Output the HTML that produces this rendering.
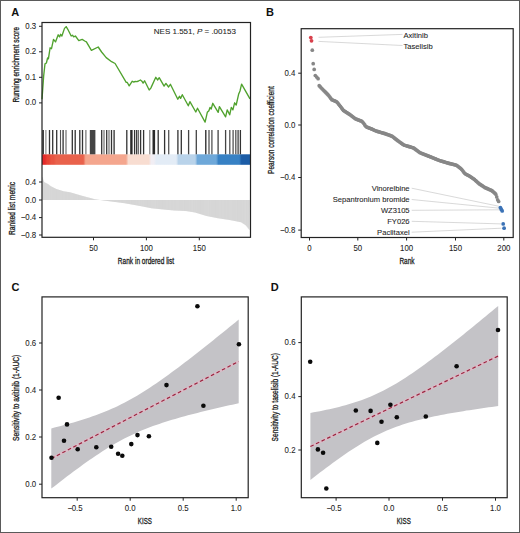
<!DOCTYPE html><html><head><meta charset="utf-8"><style>html,body{margin:0;padding:0;background:#fff;}svg{display:block;}</style></head><body><svg width="520" height="533" viewBox="0 0 520 533" font-family="Liberation Sans, sans-serif">
<rect x="0" y="0" width="520" height="533" fill="#fff"/>
<rect x="0.5" y="0.5" width="519" height="532" fill="none" stroke="#5a5a5a" stroke-width="1"/>
<text x="11.3" y="16.4" font-size="11" font-weight="bold" fill="#111">A</text>
<text x="266" y="15.9" font-size="11" font-weight="bold" fill="#111">B</text>
<text x="11.4" y="291.1" font-size="11" font-weight="bold" fill="#111">C</text>
<text x="270.8" y="291.1" font-size="11" font-weight="bold" fill="#111">D</text>
<defs><linearGradient id="hg" x1="0" x2="1" y1="0" y2="0"><stop offset="0.0000" stop-color="#e42a2a"/><stop offset="0.0134" stop-color="#e42a2a"/><stop offset="0.0249" stop-color="#e84434"/><stop offset="0.0326" stop-color="#e84434"/><stop offset="0.0441" stop-color="#e85542"/><stop offset="0.0566" stop-color="#e85542"/><stop offset="0.0681" stop-color="#e9624c"/><stop offset="0.1981" stop-color="#e9624c"/><stop offset="0.2096" stop-color="#f4a68e"/><stop offset="0.4029" stop-color="#f4a68e"/><stop offset="0.4144" stop-color="#f8ddd1"/><stop offset="0.5122" stop-color="#f8ddd1"/><stop offset="0.5237" stop-color="#f1eef4"/><stop offset="0.5362" stop-color="#f1eef4"/><stop offset="0.5477" stop-color="#e3ecf6"/><stop offset="0.6432" stop-color="#e3ecf6"/><stop offset="0.6547" stop-color="#b9d3ea"/><stop offset="0.7343" stop-color="#b9d3ea"/><stop offset="0.7458" stop-color="#6ea8d9"/><stop offset="0.8350" stop-color="#6ea8d9"/><stop offset="0.8465" stop-color="#3781c4"/><stop offset="0.9458" stop-color="#3781c4"/><stop offset="0.9573" stop-color="#1b5ca6"/><stop offset="1.0000" stop-color="#1b5ca6"/></linearGradient></defs>
<rect x="42" y="154.3" width="208.5" height="10.5" fill="url(#hg)"/>
<rect x="42.3" y="130" width="1.6" height="24.3" fill="#2a2a2a"/>
<rect x="45.4" y="130" width="1" height="24.3" fill="#777"/>
<rect x="48.85" y="130" width="1.3" height="24.3" fill="#333"/>
<rect x="52.05" y="130" width="1.3" height="24.3" fill="#333"/>
<rect x="56.05" y="130" width="1.3" height="24.3" fill="#333"/>
<rect x="59.95" y="130" width="1.1" height="24.3" fill="#555"/>
<rect x="62.45" y="130" width="1.3" height="24.3" fill="#333"/>
<rect x="65.45" y="130" width="1.1" height="24.3" fill="#666"/>
<rect x="71.65" y="130" width="1.3" height="24.3" fill="#333"/>
<rect x="74.55" y="130" width="1.3" height="24.3" fill="#333"/>
<rect x="79.15" y="130" width="1.3" height="24.3" fill="#333"/>
<rect x="81.85" y="130" width="1.3" height="24.3" fill="#333"/>
<rect x="85.35" y="130" width="1.1" height="24.3" fill="#666"/>
<rect x="89.8" y="130" width="5.6" height="24.3" fill="#444"/>
<rect x="101.05" y="130" width="1.3" height="24.3" fill="#333"/>
<rect x="103.45" y="130" width="1.1" height="24.3" fill="#666"/>
<rect x="106.05" y="130" width="1.3" height="24.3" fill="#333"/>
<rect x="108.45" y="130" width="1.1" height="24.3" fill="#666"/>
<rect x="110.85" y="130" width="1.3" height="24.3" fill="#333"/>
<rect x="113.45" y="130" width="1.3" height="24.3" fill="#333"/>
<rect x="126.15" y="130" width="1.3" height="24.3" fill="#333"/>
<rect x="130.2" y="130" width="2.4" height="24.3" fill="#2a2a2a"/>
<rect x="133.95" y="130" width="1.3" height="24.3" fill="#333"/>
<rect x="136.05" y="130" width="1.3" height="24.3" fill="#333"/>
<rect x="137.85" y="130" width="1.1" height="24.3" fill="#666"/>
<rect x="139.95" y="130" width="1.3" height="24.3" fill="#333"/>
<rect x="142.95" y="130" width="1.3" height="24.3" fill="#333"/>
<rect x="149.25" y="130" width="1.1" height="24.3" fill="#777"/>
<rect x="152.5" y="130" width="2.6" height="24.3" fill="#2a2a2a"/>
<rect x="157.55" y="130" width="1.3" height="24.3" fill="#333"/>
<rect x="163.95" y="130" width="1.3" height="24.3" fill="#333"/>
<rect x="168.05" y="130" width="1.3" height="24.3" fill="#555"/>
<rect x="177.25" y="130" width="1.3" height="24.3" fill="#333"/>
<rect x="180.65" y="130" width="1.3" height="24.3" fill="#333"/>
<rect x="187.95" y="130" width="1.3" height="24.3" fill="#444"/>
<rect x="195.65" y="130" width="1.3" height="24.3" fill="#444"/>
<rect x="205.15" y="130" width="1.3" height="24.3" fill="#222"/>
<rect x="208.35" y="130" width="1.3" height="24.3" fill="#555"/>
<rect x="211.25" y="130" width="1.3" height="24.3" fill="#555"/>
<rect x="217.45" y="130" width="1.3" height="24.3" fill="#444"/>
<rect x="224.95" y="130" width="1.3" height="24.3" fill="#444"/>
<rect x="229.15" y="130" width="1.3" height="24.3" fill="#555"/>
<rect x="232.45" y="130" width="1.3" height="24.3" fill="#555"/>
<rect x="235.15" y="130" width="1.3" height="24.3" fill="#555"/>
<rect x="237.45" y="130" width="1.3" height="24.3" fill="#444"/>
<rect x="239.75" y="130" width="1.3" height="24.3" fill="#333"/>
<path d="M42.3,200 L42.3,176.5 L43.2,179 L44,182 L48,184.1 L50.5,186.1 L56.4,189 L63.6,191.3 L70,192.3 L82,195.8 L95,199.3 L103.5,200.5 L124.6,203.2 L140,206 L151.5,208.3 L163,209.4 L174.6,210.6 L186,211.1 L195,212.5 L206.5,216 L218,218.3 L229.6,220 L241.1,222.3 L245.7,225.2 L249.4,230 L249.8,200 Z" fill="#e2e2e2"/>
<line x1="42.6" y1="200" x2="42.6" y2="177.33" stroke="#c2c2c2" stroke-width="0.38"/>
<line x1="43.66" y1="200" x2="43.66" y2="180.73" stroke="#c2c2c2" stroke-width="0.38"/>
<line x1="44.72" y1="200" x2="44.72" y2="182.38" stroke="#c2c2c2" stroke-width="0.38"/>
<line x1="45.78" y1="200" x2="45.78" y2="182.93" stroke="#c2c2c2" stroke-width="0.38"/>
<line x1="46.84" y1="200" x2="46.84" y2="183.49" stroke="#c2c2c2" stroke-width="0.38"/>
<line x1="47.9" y1="200" x2="47.9" y2="184.05" stroke="#c2c2c2" stroke-width="0.38"/>
<line x1="48.96" y1="200" x2="48.96" y2="184.87" stroke="#c2c2c2" stroke-width="0.38"/>
<line x1="50.02" y1="200" x2="50.02" y2="185.72" stroke="#c2c2c2" stroke-width="0.38"/>
<line x1="51.08" y1="200" x2="51.08" y2="186.39" stroke="#c2c2c2" stroke-width="0.38"/>
<line x1="52.14" y1="200" x2="52.14" y2="186.91" stroke="#c2c2c2" stroke-width="0.38"/>
<line x1="53.2" y1="200" x2="53.2" y2="187.43" stroke="#c2c2c2" stroke-width="0.38"/>
<line x1="54.26" y1="200" x2="54.26" y2="187.95" stroke="#c2c2c2" stroke-width="0.38"/>
<line x1="55.32" y1="200" x2="55.32" y2="188.47" stroke="#c2c2c2" stroke-width="0.38"/>
<line x1="56.38" y1="200" x2="56.38" y2="188.99" stroke="#c2c2c2" stroke-width="0.38"/>
<line x1="57.44" y1="200" x2="57.44" y2="189.33" stroke="#c2c2c2" stroke-width="0.38"/>
<line x1="58.5" y1="200" x2="58.5" y2="189.67" stroke="#c2c2c2" stroke-width="0.38"/>
<line x1="59.56" y1="200" x2="59.56" y2="190.01" stroke="#c2c2c2" stroke-width="0.38"/>
<line x1="60.62" y1="200" x2="60.62" y2="190.35" stroke="#c2c2c2" stroke-width="0.38"/>
<line x1="61.68" y1="200" x2="61.68" y2="190.69" stroke="#c2c2c2" stroke-width="0.38"/>
<line x1="62.74" y1="200" x2="62.74" y2="191.03" stroke="#c2c2c2" stroke-width="0.38"/>
<line x1="63.8" y1="200" x2="63.8" y2="191.33" stroke="#c2c2c2" stroke-width="0.38"/>
<line x1="64.86" y1="200" x2="64.86" y2="191.5" stroke="#c2c2c2" stroke-width="0.38"/>
<line x1="65.92" y1="200" x2="65.92" y2="191.66" stroke="#c2c2c2" stroke-width="0.38"/>
<line x1="66.98" y1="200" x2="66.98" y2="191.83" stroke="#c2c2c2" stroke-width="0.38"/>
<line x1="68.04" y1="200" x2="68.04" y2="191.99" stroke="#c2c2c2" stroke-width="0.38"/>
<line x1="69.1" y1="200" x2="69.1" y2="192.16" stroke="#c2c2c2" stroke-width="0.38"/>
<line x1="70.16" y1="200" x2="70.16" y2="192.35" stroke="#c2c2c2" stroke-width="0.38"/>
<line x1="71.22" y1="200" x2="71.22" y2="192.66" stroke="#c2c2c2" stroke-width="0.38"/>
<line x1="72.28" y1="200" x2="72.28" y2="192.97" stroke="#c2c2c2" stroke-width="0.38"/>
<line x1="73.34" y1="200" x2="73.34" y2="193.27" stroke="#c2c2c2" stroke-width="0.38"/>
<line x1="74.4" y1="200" x2="74.4" y2="193.58" stroke="#c2c2c2" stroke-width="0.38"/>
<line x1="75.46" y1="200" x2="75.46" y2="193.89" stroke="#c2c2c2" stroke-width="0.38"/>
<line x1="76.52" y1="200" x2="76.52" y2="194.2" stroke="#c2c2c2" stroke-width="0.38"/>
<line x1="77.58" y1="200" x2="77.58" y2="194.51" stroke="#c2c2c2" stroke-width="0.38"/>
<line x1="78.64" y1="200" x2="78.64" y2="194.82" stroke="#c2c2c2" stroke-width="0.38"/>
<line x1="79.7" y1="200" x2="79.7" y2="195.13" stroke="#c2c2c2" stroke-width="0.38"/>
<line x1="80.76" y1="200" x2="80.76" y2="195.44" stroke="#c2c2c2" stroke-width="0.38"/>
<line x1="81.82" y1="200" x2="81.82" y2="195.75" stroke="#c2c2c2" stroke-width="0.38"/>
<line x1="82.88" y1="200" x2="82.88" y2="196.04" stroke="#c2c2c2" stroke-width="0.38"/>
<line x1="83.94" y1="200" x2="83.94" y2="196.32" stroke="#c2c2c2" stroke-width="0.38"/>
<line x1="85" y1="200" x2="85" y2="196.61" stroke="#c2c2c2" stroke-width="0.38"/>
<line x1="86.06" y1="200" x2="86.06" y2="196.89" stroke="#c2c2c2" stroke-width="0.38"/>
<line x1="87.12" y1="200" x2="87.12" y2="197.18" stroke="#c2c2c2" stroke-width="0.38"/>
<line x1="88.18" y1="200" x2="88.18" y2="197.46" stroke="#c2c2c2" stroke-width="0.38"/>
<line x1="89.24" y1="200" x2="89.24" y2="197.75" stroke="#c2c2c2" stroke-width="0.38"/>
<line x1="90.3" y1="200" x2="90.3" y2="198.03" stroke="#c2c2c2" stroke-width="0.38"/>
<line x1="91.36" y1="200" x2="91.36" y2="198.32" stroke="#c2c2c2" stroke-width="0.38"/>
<line x1="92.42" y1="200" x2="92.42" y2="198.61" stroke="#c2c2c2" stroke-width="0.38"/>
<line x1="93.48" y1="200" x2="93.48" y2="198.89" stroke="#c2c2c2" stroke-width="0.38"/>
<line x1="94.54" y1="200" x2="94.54" y2="199.18" stroke="#c2c2c2" stroke-width="0.38"/>
<line x1="95.6" y1="200" x2="95.6" y2="199.38" stroke="#c2c2c2" stroke-width="0.38"/>
<line x1="96.66" y1="200" x2="96.66" y2="199.53" stroke="#c2c2c2" stroke-width="0.38"/>
<line x1="97.72" y1="200" x2="97.72" y2="199.68" stroke="#c2c2c2" stroke-width="0.38"/>
<line x1="98.78" y1="200" x2="98.78" y2="199.83" stroke="#c2c2c2" stroke-width="0.38"/>
<line x1="99.84" y1="200" x2="99.84" y2="199.98" stroke="#c2c2c2" stroke-width="0.38"/>
<line x1="100.9" y1="200" x2="100.9" y2="200.13" stroke="#c2c2c2" stroke-width="0.38"/>
<line x1="101.96" y1="200" x2="101.96" y2="200.28" stroke="#c2c2c2" stroke-width="0.38"/>
<line x1="103.02" y1="200" x2="103.02" y2="200.43" stroke="#c2c2c2" stroke-width="0.38"/>
<line x1="104.08" y1="200" x2="104.08" y2="200.57" stroke="#c2c2c2" stroke-width="0.38"/>
<line x1="105.14" y1="200" x2="105.14" y2="200.71" stroke="#c2c2c2" stroke-width="0.38"/>
<line x1="106.2" y1="200" x2="106.2" y2="200.85" stroke="#c2c2c2" stroke-width="0.38"/>
<line x1="107.26" y1="200" x2="107.26" y2="200.98" stroke="#c2c2c2" stroke-width="0.38"/>
<line x1="108.32" y1="200" x2="108.32" y2="201.12" stroke="#c2c2c2" stroke-width="0.38"/>
<line x1="109.38" y1="200" x2="109.38" y2="201.25" stroke="#c2c2c2" stroke-width="0.38"/>
<line x1="110.44" y1="200" x2="110.44" y2="201.39" stroke="#c2c2c2" stroke-width="0.38"/>
<line x1="111.5" y1="200" x2="111.5" y2="201.52" stroke="#c2c2c2" stroke-width="0.38"/>
<line x1="112.56" y1="200" x2="112.56" y2="201.66" stroke="#c2c2c2" stroke-width="0.38"/>
<line x1="113.62" y1="200" x2="113.62" y2="201.79" stroke="#c2c2c2" stroke-width="0.38"/>
<line x1="114.68" y1="200" x2="114.68" y2="201.93" stroke="#c2c2c2" stroke-width="0.38"/>
<line x1="115.74" y1="200" x2="115.74" y2="202.07" stroke="#c2c2c2" stroke-width="0.38"/>
<line x1="116.8" y1="200" x2="116.8" y2="202.2" stroke="#c2c2c2" stroke-width="0.38"/>
<line x1="117.86" y1="200" x2="117.86" y2="202.34" stroke="#c2c2c2" stroke-width="0.38"/>
<line x1="118.92" y1="200" x2="118.92" y2="202.47" stroke="#c2c2c2" stroke-width="0.38"/>
<line x1="119.98" y1="200" x2="119.98" y2="202.61" stroke="#c2c2c2" stroke-width="0.38"/>
<line x1="121.04" y1="200" x2="121.04" y2="202.74" stroke="#c2c2c2" stroke-width="0.38"/>
<line x1="122.1" y1="200" x2="122.1" y2="202.88" stroke="#c2c2c2" stroke-width="0.38"/>
<line x1="123.16" y1="200" x2="123.16" y2="203.02" stroke="#c2c2c2" stroke-width="0.38"/>
<line x1="124.22" y1="200" x2="124.22" y2="203.15" stroke="#c2c2c2" stroke-width="0.38"/>
<line x1="125.28" y1="200" x2="125.28" y2="203.32" stroke="#c2c2c2" stroke-width="0.38"/>
<line x1="126.34" y1="200" x2="126.34" y2="203.52" stroke="#c2c2c2" stroke-width="0.38"/>
<line x1="127.4" y1="200" x2="127.4" y2="203.71" stroke="#c2c2c2" stroke-width="0.38"/>
<line x1="128.46" y1="200" x2="128.46" y2="203.9" stroke="#c2c2c2" stroke-width="0.38"/>
<line x1="129.52" y1="200" x2="129.52" y2="204.09" stroke="#c2c2c2" stroke-width="0.38"/>
<line x1="130.58" y1="200" x2="130.58" y2="204.29" stroke="#c2c2c2" stroke-width="0.38"/>
<line x1="131.64" y1="200" x2="131.64" y2="204.48" stroke="#c2c2c2" stroke-width="0.38"/>
<line x1="132.7" y1="200" x2="132.7" y2="204.67" stroke="#c2c2c2" stroke-width="0.38"/>
<line x1="133.76" y1="200" x2="133.76" y2="204.87" stroke="#c2c2c2" stroke-width="0.38"/>
<line x1="134.82" y1="200" x2="134.82" y2="205.06" stroke="#c2c2c2" stroke-width="0.38"/>
<line x1="135.88" y1="200" x2="135.88" y2="205.25" stroke="#c2c2c2" stroke-width="0.38"/>
<line x1="136.94" y1="200" x2="136.94" y2="205.44" stroke="#c2c2c2" stroke-width="0.38"/>
<line x1="138" y1="200" x2="138" y2="205.64" stroke="#c2c2c2" stroke-width="0.38"/>
<line x1="139.06" y1="200" x2="139.06" y2="205.83" stroke="#c2c2c2" stroke-width="0.38"/>
<line x1="140.12" y1="200" x2="140.12" y2="206.02" stroke="#c2c2c2" stroke-width="0.38"/>
<line x1="141.18" y1="200" x2="141.18" y2="206.24" stroke="#c2c2c2" stroke-width="0.38"/>
<line x1="142.24" y1="200" x2="142.24" y2="206.45" stroke="#c2c2c2" stroke-width="0.38"/>
<line x1="143.3" y1="200" x2="143.3" y2="206.66" stroke="#c2c2c2" stroke-width="0.38"/>
<line x1="144.36" y1="200" x2="144.36" y2="206.87" stroke="#c2c2c2" stroke-width="0.38"/>
<line x1="145.42" y1="200" x2="145.42" y2="207.08" stroke="#c2c2c2" stroke-width="0.38"/>
<line x1="146.48" y1="200" x2="146.48" y2="207.3" stroke="#c2c2c2" stroke-width="0.38"/>
<line x1="147.54" y1="200" x2="147.54" y2="207.51" stroke="#c2c2c2" stroke-width="0.38"/>
<line x1="148.6" y1="200" x2="148.6" y2="207.72" stroke="#c2c2c2" stroke-width="0.38"/>
<line x1="149.66" y1="200" x2="149.66" y2="207.93" stroke="#c2c2c2" stroke-width="0.38"/>
<line x1="150.72" y1="200" x2="150.72" y2="208.14" stroke="#c2c2c2" stroke-width="0.38"/>
<line x1="151.78" y1="200" x2="151.78" y2="208.33" stroke="#c2c2c2" stroke-width="0.38"/>
<line x1="152.84" y1="200" x2="152.84" y2="208.43" stroke="#c2c2c2" stroke-width="0.38"/>
<line x1="153.9" y1="200" x2="153.9" y2="208.53" stroke="#c2c2c2" stroke-width="0.38"/>
<line x1="154.96" y1="200" x2="154.96" y2="208.63" stroke="#c2c2c2" stroke-width="0.38"/>
<line x1="156.02" y1="200" x2="156.02" y2="208.73" stroke="#c2c2c2" stroke-width="0.38"/>
<line x1="157.08" y1="200" x2="157.08" y2="208.83" stroke="#c2c2c2" stroke-width="0.38"/>
<line x1="158.14" y1="200" x2="158.14" y2="208.94" stroke="#c2c2c2" stroke-width="0.38"/>
<line x1="159.2" y1="200" x2="159.2" y2="209.04" stroke="#c2c2c2" stroke-width="0.38"/>
<line x1="160.26" y1="200" x2="160.26" y2="209.14" stroke="#c2c2c2" stroke-width="0.38"/>
<line x1="161.32" y1="200" x2="161.32" y2="209.24" stroke="#c2c2c2" stroke-width="0.38"/>
<line x1="162.38" y1="200" x2="162.38" y2="209.34" stroke="#c2c2c2" stroke-width="0.38"/>
<line x1="163.44" y1="200" x2="163.44" y2="209.45" stroke="#c2c2c2" stroke-width="0.38"/>
<line x1="164.5" y1="200" x2="164.5" y2="209.56" stroke="#c2c2c2" stroke-width="0.38"/>
<line x1="165.56" y1="200" x2="165.56" y2="209.66" stroke="#c2c2c2" stroke-width="0.38"/>
<line x1="166.62" y1="200" x2="166.62" y2="209.77" stroke="#c2c2c2" stroke-width="0.38"/>
<line x1="167.68" y1="200" x2="167.68" y2="209.88" stroke="#c2c2c2" stroke-width="0.38"/>
<line x1="168.74" y1="200" x2="168.74" y2="209.99" stroke="#c2c2c2" stroke-width="0.38"/>
<line x1="169.8" y1="200" x2="169.8" y2="210.1" stroke="#c2c2c2" stroke-width="0.38"/>
<line x1="170.86" y1="200" x2="170.86" y2="210.21" stroke="#c2c2c2" stroke-width="0.38"/>
<line x1="171.92" y1="200" x2="171.92" y2="210.32" stroke="#c2c2c2" stroke-width="0.38"/>
<line x1="172.98" y1="200" x2="172.98" y2="210.43" stroke="#c2c2c2" stroke-width="0.38"/>
<line x1="174.04" y1="200" x2="174.04" y2="210.54" stroke="#c2c2c2" stroke-width="0.38"/>
<line x1="175.1" y1="200" x2="175.1" y2="210.62" stroke="#c2c2c2" stroke-width="0.38"/>
<line x1="176.16" y1="200" x2="176.16" y2="210.67" stroke="#c2c2c2" stroke-width="0.38"/>
<line x1="177.22" y1="200" x2="177.22" y2="210.71" stroke="#c2c2c2" stroke-width="0.38"/>
<line x1="178.28" y1="200" x2="178.28" y2="210.76" stroke="#c2c2c2" stroke-width="0.38"/>
<line x1="179.34" y1="200" x2="179.34" y2="210.81" stroke="#c2c2c2" stroke-width="0.38"/>
<line x1="180.4" y1="200" x2="180.4" y2="210.85" stroke="#c2c2c2" stroke-width="0.38"/>
<line x1="181.46" y1="200" x2="181.46" y2="210.9" stroke="#c2c2c2" stroke-width="0.38"/>
<line x1="182.52" y1="200" x2="182.52" y2="210.95" stroke="#c2c2c2" stroke-width="0.38"/>
<line x1="183.58" y1="200" x2="183.58" y2="210.99" stroke="#c2c2c2" stroke-width="0.38"/>
<line x1="184.64" y1="200" x2="184.64" y2="211.04" stroke="#c2c2c2" stroke-width="0.38"/>
<line x1="185.7" y1="200" x2="185.7" y2="211.09" stroke="#c2c2c2" stroke-width="0.38"/>
<line x1="186.76" y1="200" x2="186.76" y2="211.22" stroke="#c2c2c2" stroke-width="0.38"/>
<line x1="187.82" y1="200" x2="187.82" y2="211.38" stroke="#c2c2c2" stroke-width="0.38"/>
<line x1="188.88" y1="200" x2="188.88" y2="211.55" stroke="#c2c2c2" stroke-width="0.38"/>
<line x1="189.94" y1="200" x2="189.94" y2="211.71" stroke="#c2c2c2" stroke-width="0.38"/>
<line x1="191" y1="200" x2="191" y2="211.88" stroke="#c2c2c2" stroke-width="0.38"/>
<line x1="192.06" y1="200" x2="192.06" y2="212.04" stroke="#c2c2c2" stroke-width="0.38"/>
<line x1="193.12" y1="200" x2="193.12" y2="212.21" stroke="#c2c2c2" stroke-width="0.38"/>
<line x1="194.18" y1="200" x2="194.18" y2="212.37" stroke="#c2c2c2" stroke-width="0.38"/>
<line x1="195.24" y1="200" x2="195.24" y2="212.57" stroke="#c2c2c2" stroke-width="0.38"/>
<line x1="196.3" y1="200" x2="196.3" y2="212.9" stroke="#c2c2c2" stroke-width="0.38"/>
<line x1="197.36" y1="200" x2="197.36" y2="213.22" stroke="#c2c2c2" stroke-width="0.38"/>
<line x1="198.42" y1="200" x2="198.42" y2="213.54" stroke="#c2c2c2" stroke-width="0.38"/>
<line x1="199.48" y1="200" x2="199.48" y2="213.86" stroke="#c2c2c2" stroke-width="0.38"/>
<line x1="200.54" y1="200" x2="200.54" y2="214.19" stroke="#c2c2c2" stroke-width="0.38"/>
<line x1="201.6" y1="200" x2="201.6" y2="214.51" stroke="#c2c2c2" stroke-width="0.38"/>
<line x1="202.66" y1="200" x2="202.66" y2="214.83" stroke="#c2c2c2" stroke-width="0.38"/>
<line x1="203.72" y1="200" x2="203.72" y2="215.15" stroke="#c2c2c2" stroke-width="0.38"/>
<line x1="204.78" y1="200" x2="204.78" y2="215.48" stroke="#c2c2c2" stroke-width="0.38"/>
<line x1="205.84" y1="200" x2="205.84" y2="215.8" stroke="#c2c2c2" stroke-width="0.38"/>
<line x1="206.9" y1="200" x2="206.9" y2="216.08" stroke="#c2c2c2" stroke-width="0.38"/>
<line x1="207.96" y1="200" x2="207.96" y2="216.29" stroke="#c2c2c2" stroke-width="0.38"/>
<line x1="209.02" y1="200" x2="209.02" y2="216.5" stroke="#c2c2c2" stroke-width="0.38"/>
<line x1="210.08" y1="200" x2="210.08" y2="216.72" stroke="#c2c2c2" stroke-width="0.38"/>
<line x1="211.14" y1="200" x2="211.14" y2="216.93" stroke="#c2c2c2" stroke-width="0.38"/>
<line x1="212.2" y1="200" x2="212.2" y2="217.14" stroke="#c2c2c2" stroke-width="0.38"/>
<line x1="213.26" y1="200" x2="213.26" y2="217.35" stroke="#c2c2c2" stroke-width="0.38"/>
<line x1="214.32" y1="200" x2="214.32" y2="217.56" stroke="#c2c2c2" stroke-width="0.38"/>
<line x1="215.38" y1="200" x2="215.38" y2="217.78" stroke="#c2c2c2" stroke-width="0.38"/>
<line x1="216.44" y1="200" x2="216.44" y2="217.99" stroke="#c2c2c2" stroke-width="0.38"/>
<line x1="217.5" y1="200" x2="217.5" y2="218.2" stroke="#c2c2c2" stroke-width="0.38"/>
<line x1="218.56" y1="200" x2="218.56" y2="218.38" stroke="#c2c2c2" stroke-width="0.38"/>
<line x1="219.62" y1="200" x2="219.62" y2="218.54" stroke="#c2c2c2" stroke-width="0.38"/>
<line x1="220.68" y1="200" x2="220.68" y2="218.69" stroke="#c2c2c2" stroke-width="0.38"/>
<line x1="221.74" y1="200" x2="221.74" y2="218.85" stroke="#c2c2c2" stroke-width="0.38"/>
<line x1="222.8" y1="200" x2="222.8" y2="219" stroke="#c2c2c2" stroke-width="0.38"/>
<line x1="223.86" y1="200" x2="223.86" y2="219.16" stroke="#c2c2c2" stroke-width="0.38"/>
<line x1="224.92" y1="200" x2="224.92" y2="219.31" stroke="#c2c2c2" stroke-width="0.38"/>
<line x1="225.98" y1="200" x2="225.98" y2="219.47" stroke="#c2c2c2" stroke-width="0.38"/>
<line x1="227.04" y1="200" x2="227.04" y2="219.62" stroke="#c2c2c2" stroke-width="0.38"/>
<line x1="228.1" y1="200" x2="228.1" y2="219.78" stroke="#c2c2c2" stroke-width="0.38"/>
<line x1="229.16" y1="200" x2="229.16" y2="219.94" stroke="#c2c2c2" stroke-width="0.38"/>
<line x1="230.22" y1="200" x2="230.22" y2="220.12" stroke="#c2c2c2" stroke-width="0.38"/>
<line x1="231.28" y1="200" x2="231.28" y2="220.34" stroke="#c2c2c2" stroke-width="0.38"/>
<line x1="232.34" y1="200" x2="232.34" y2="220.55" stroke="#c2c2c2" stroke-width="0.38"/>
<line x1="233.4" y1="200" x2="233.4" y2="220.76" stroke="#c2c2c2" stroke-width="0.38"/>
<line x1="234.46" y1="200" x2="234.46" y2="220.97" stroke="#c2c2c2" stroke-width="0.38"/>
<line x1="235.52" y1="200" x2="235.52" y2="221.18" stroke="#c2c2c2" stroke-width="0.38"/>
<line x1="236.58" y1="200" x2="236.58" y2="221.4" stroke="#c2c2c2" stroke-width="0.38"/>
<line x1="237.64" y1="200" x2="237.64" y2="221.61" stroke="#c2c2c2" stroke-width="0.38"/>
<line x1="238.7" y1="200" x2="238.7" y2="221.82" stroke="#c2c2c2" stroke-width="0.38"/>
<line x1="239.76" y1="200" x2="239.76" y2="222.03" stroke="#c2c2c2" stroke-width="0.38"/>
<line x1="240.82" y1="200" x2="240.82" y2="222.24" stroke="#c2c2c2" stroke-width="0.38"/>
<line x1="241.88" y1="200" x2="241.88" y2="222.79" stroke="#c2c2c2" stroke-width="0.38"/>
<line x1="242.94" y1="200" x2="242.94" y2="223.46" stroke="#c2c2c2" stroke-width="0.38"/>
<line x1="244" y1="200" x2="244" y2="224.13" stroke="#c2c2c2" stroke-width="0.38"/>
<line x1="245.06" y1="200" x2="245.06" y2="224.8" stroke="#c2c2c2" stroke-width="0.38"/>
<line x1="246.12" y1="200" x2="246.12" y2="225.74" stroke="#c2c2c2" stroke-width="0.38"/>
<line x1="247.18" y1="200" x2="247.18" y2="227.12" stroke="#c2c2c2" stroke-width="0.38"/>
<line x1="248.24" y1="200" x2="248.24" y2="228.5" stroke="#c2c2c2" stroke-width="0.38"/>
<line x1="249.3" y1="200" x2="249.3" y2="229.87" stroke="#c2c2c2" stroke-width="0.38"/>
<polyline fill="none" stroke="#50a22e" stroke-width="1.35" stroke-linejoin="round" points="42,99.3 43.7,75.6 45,63.8 46.4,63 47.6,58 48.4,58.8 50.1,47.8 51.5,48.7 53.5,39.4 55.5,41.9 58.2,34.8 59.6,36.9 60.6,34.3 61.9,36 64.5,28.4 66.2,26.6 67.8,29.3 71.2,36 72.5,35.2 73.7,36.9 75.4,36 78.8,40.6 82.2,39.4 84.7,41 86.4,41.9 91.4,50.4 98.2,47 101.6,52 106.2,57.6 111.6,61.7 115.1,63.5 126.2,82.3 127.3,82.5 129.2,85.8 132.3,81.2 133.5,82 135.4,81.5 137,81.6 138.5,81 140.4,80 141.9,81.2 143.1,83.1 144.6,80.8 149.2,90 150.8,88.1 155.8,77.3 157.7,80 159.2,77.7 164.1,86.1 165.9,83.4 168.6,87 170.4,84.3 177.8,99.2 179.5,96.3 180.6,98.4 182.3,94.7 188.3,105.8 189.9,101.7 195.8,112 197.5,108.2 205.1,122.1 207.3,112.3 208.9,110.7 210,107.4 211.2,109 212.8,103.3 218.2,112.3 219.4,106.6 225.6,116.9 227.2,109.9 229.7,114.8 231.3,107.4 232.9,109.9 234.6,102.8 236.2,105 238.6,94.3 240,91 241.6,84.2 250,98.8"/>
<rect x="42" y="22.5" width="208.5" height="214.8" fill="none" stroke="#222" stroke-width="1.2"/>
<line x1="39" y1="26.3" x2="42" y2="26.3" stroke="#222" stroke-width="1"/>
<text transform="translate(36.2,28.85) scale(0.9,1)" font-size="8.7" text-anchor="end" fill="#1e1e1e" stroke="#1e1e1e" stroke-width="0.08">0.3</text>
<line x1="39" y1="51.8" x2="42" y2="51.8" stroke="#222" stroke-width="1"/>
<text transform="translate(36.2,54.35) scale(0.9,1)" font-size="8.7" text-anchor="end" fill="#1e1e1e" stroke="#1e1e1e" stroke-width="0.08">0.2</text>
<line x1="39" y1="77.3" x2="42" y2="77.3" stroke="#222" stroke-width="1"/>
<text transform="translate(36.2,79.85) scale(0.9,1)" font-size="8.7" text-anchor="end" fill="#1e1e1e" stroke="#1e1e1e" stroke-width="0.08">0.1</text>
<line x1="39" y1="102.9" x2="42" y2="102.9" stroke="#222" stroke-width="1"/>
<text transform="translate(36.2,105.45) scale(0.9,1)" font-size="8.7" text-anchor="end" fill="#1e1e1e" stroke="#1e1e1e" stroke-width="0.08">0.0</text>
<line x1="39" y1="182" x2="42" y2="182" stroke="#222" stroke-width="1"/>
<text transform="translate(36.2,184.55) scale(0.9,1)" font-size="8.7" text-anchor="end" fill="#1e1e1e" stroke="#1e1e1e" stroke-width="0.08">0.4</text>
<line x1="39" y1="200" x2="42" y2="200" stroke="#222" stroke-width="1"/>
<text transform="translate(36.2,202.55) scale(0.9,1)" font-size="8.7" text-anchor="end" fill="#1e1e1e" stroke="#1e1e1e" stroke-width="0.08">0.0</text>
<line x1="39" y1="217.6" x2="42" y2="217.6" stroke="#222" stroke-width="1"/>
<text transform="translate(36.2,220.15) scale(0.9,1)" font-size="8.7" text-anchor="end" fill="#1e1e1e" stroke="#1e1e1e" stroke-width="0.08">−0.4</text>
<line x1="39" y1="235" x2="42" y2="235" stroke="#222" stroke-width="1"/>
<text transform="translate(36.2,237.55) scale(0.9,1)" font-size="8.7" text-anchor="end" fill="#1e1e1e" stroke="#1e1e1e" stroke-width="0.08">−0.8</text>
<line x1="93.5" y1="237.3" x2="93.5" y2="240.3" stroke="#222" stroke-width="1"/>
<text transform="translate(93.5,250.9) scale(0.9,1)" font-size="8.7" text-anchor="middle" fill="#1e1e1e" stroke="#1e1e1e" stroke-width="0.08">50</text>
<line x1="146.4" y1="237.3" x2="146.4" y2="240.3" stroke="#222" stroke-width="1"/>
<text transform="translate(146.4,250.9) scale(0.9,1)" font-size="8.7" text-anchor="middle" fill="#1e1e1e" stroke="#1e1e1e" stroke-width="0.08">100</text>
<line x1="199.3" y1="237.3" x2="199.3" y2="240.3" stroke="#222" stroke-width="1"/>
<text transform="translate(199.3,250.9) scale(0.9,1)" font-size="8.7" text-anchor="middle" fill="#1e1e1e" stroke="#1e1e1e" stroke-width="0.08">150</text>
<text x="153.8" y="34.3" font-size="8" text-anchor="start" fill="#1e1e1e" stroke="#1e1e1e" stroke-width="0.08" >NES 1.551, <tspan font-style="italic">P</tspan> = .00153</text>
<text transform="translate(146,263.5) scale(0.726,1)" font-size="9" text-anchor="middle" fill="#1a1a1a" stroke="#1a1a1a" stroke-width="0.3">Rank in ordered list</text>
<text transform="translate(18.6,64.7) rotate(-90) scale(0.722,1)" font-size="9" text-anchor="middle" fill="#1a1a1a" stroke="#1a1a1a" stroke-width="0.3">Running enrichment score</text>
<text transform="translate(14.8,208.5) rotate(-90) scale(0.742,1)" font-size="9" text-anchor="middle" fill="#1a1a1a" stroke="#1a1a1a" stroke-width="0.3">Ranked list metric</text>
<rect x="301.2" y="28.7" width="212" height="208.8" fill="none" stroke="#222" stroke-width="1.2"/>
<line x1="298.2" y1="73.2" x2="301.2" y2="73.2" stroke="#222" stroke-width="1"/>
<text transform="translate(295.4,75.75) scale(0.9,1)" font-size="8.7" text-anchor="end" fill="#1e1e1e" stroke="#1e1e1e" stroke-width="0.08">0.4</text>
<line x1="298.2" y1="125" x2="301.2" y2="125" stroke="#222" stroke-width="1"/>
<text transform="translate(295.4,127.55) scale(0.9,1)" font-size="8.7" text-anchor="end" fill="#1e1e1e" stroke="#1e1e1e" stroke-width="0.08">0.0</text>
<line x1="298.2" y1="177.5" x2="301.2" y2="177.5" stroke="#222" stroke-width="1"/>
<text transform="translate(295.4,180.05) scale(0.9,1)" font-size="8.7" text-anchor="end" fill="#1e1e1e" stroke="#1e1e1e" stroke-width="0.08">−0.4</text>
<line x1="298.2" y1="230.1" x2="301.2" y2="230.1" stroke="#222" stroke-width="1"/>
<text transform="translate(295.4,232.65) scale(0.9,1)" font-size="8.7" text-anchor="end" fill="#1e1e1e" stroke="#1e1e1e" stroke-width="0.08">−0.8</text>
<line x1="309.5" y1="237.5" x2="309.5" y2="240.5" stroke="#222" stroke-width="1"/>
<text transform="translate(309.5,251) scale(0.9,1)" font-size="8.7" text-anchor="middle" fill="#1e1e1e" stroke="#1e1e1e" stroke-width="0.08">0</text>
<line x1="357.8" y1="237.5" x2="357.8" y2="240.5" stroke="#222" stroke-width="1"/>
<text transform="translate(357.8,251) scale(0.9,1)" font-size="8.7" text-anchor="middle" fill="#1e1e1e" stroke="#1e1e1e" stroke-width="0.08">50</text>
<line x1="406.6" y1="237.5" x2="406.6" y2="240.5" stroke="#222" stroke-width="1"/>
<text transform="translate(406.6,251) scale(0.9,1)" font-size="8.7" text-anchor="middle" fill="#1e1e1e" stroke="#1e1e1e" stroke-width="0.08">100</text>
<line x1="455.5" y1="237.5" x2="455.5" y2="240.5" stroke="#222" stroke-width="1"/>
<text transform="translate(455.5,251) scale(0.9,1)" font-size="8.7" text-anchor="middle" fill="#1e1e1e" stroke="#1e1e1e" stroke-width="0.08">150</text>
<line x1="503.8" y1="237.5" x2="503.8" y2="240.5" stroke="#222" stroke-width="1"/>
<text transform="translate(503.8,251) scale(0.9,1)" font-size="8.7" text-anchor="middle" fill="#1e1e1e" stroke="#1e1e1e" stroke-width="0.08">200</text>
<text transform="translate(407,263.5) scale(0.72,1)" font-size="9" text-anchor="middle" fill="#1a1a1a" stroke="#1a1a1a" stroke-width="0.3">Rank</text>
<text transform="translate(274,130.05) rotate(-90) scale(0.7254,1)" font-size="9" text-anchor="middle" fill="#1a1a1a" stroke="#1a1a1a" stroke-width="0.3">Pearson correlation coefficient</text>
<g stroke="#c8c8c8" stroke-width="0.7">
<line x1="318.5" y1="37.3" x2="402.5" y2="34.4"/>
<line x1="318.5" y1="41.4" x2="402.5" y2="45.5"/>
<line x1="411.7" y1="188.2" x2="499" y2="206.3"/>
<line x1="411.7" y1="199.5" x2="499.5" y2="208.2"/>
<line x1="411.7" y1="210.3" x2="500" y2="209.8"/>
<line x1="411.7" y1="221.3" x2="501" y2="223.9"/>
<line x1="411.7" y1="232.2" x2="501.5" y2="228.2"/>
</g>
<circle cx="312.3" cy="50.2" r="1.85" fill="#878787"/>
<circle cx="313.2" cy="63.7" r="1.85" fill="#878787"/>
<circle cx="314.2" cy="69.4" r="1.85" fill="#878787"/>
<circle cx="315.3" cy="75.5" r="1.85" fill="#878787"/>
<circle cx="316.7" cy="77.1" r="1.85" fill="#878787"/>
<circle cx="318.1" cy="78.7" r="1.85" fill="#878787"/>
<circle cx="319.2" cy="85.71" r="1.85" fill="#878787"/>
<circle cx="320.17" cy="86.72" r="1.85" fill="#878787"/>
<circle cx="321.14" cy="87.73" r="1.85" fill="#878787"/>
<circle cx="322.11" cy="88.74" r="1.85" fill="#878787"/>
<circle cx="323.08" cy="89.75" r="1.85" fill="#878787"/>
<circle cx="324.05" cy="90.75" r="1.85" fill="#878787"/>
<circle cx="325.02" cy="91.72" r="1.85" fill="#878787"/>
<circle cx="325.99" cy="92.69" r="1.85" fill="#878787"/>
<circle cx="326.96" cy="93.66" r="1.85" fill="#878787"/>
<circle cx="327.93" cy="94.63" r="1.85" fill="#878787"/>
<circle cx="328.9" cy="95.81" r="1.85" fill="#878787"/>
<circle cx="329.87" cy="97.12" r="1.85" fill="#878787"/>
<circle cx="330.84" cy="98.44" r="1.85" fill="#878787"/>
<circle cx="331.81" cy="99.65" r="1.85" fill="#878787"/>
<circle cx="332.78" cy="100.08" r="1.85" fill="#878787"/>
<circle cx="333.75" cy="100.51" r="1.85" fill="#878787"/>
<circle cx="334.72" cy="100.94" r="1.85" fill="#878787"/>
<circle cx="335.69" cy="101.36" r="1.85" fill="#878787"/>
<circle cx="336.66" cy="101.79" r="1.85" fill="#878787"/>
<circle cx="337.63" cy="102.82" r="1.85" fill="#878787"/>
<circle cx="338.6" cy="104.04" r="1.85" fill="#878787"/>
<circle cx="339.57" cy="105.29" r="1.85" fill="#878787"/>
<circle cx="340.54" cy="106.58" r="1.85" fill="#878787"/>
<circle cx="341.51" cy="107.86" r="1.85" fill="#878787"/>
<circle cx="342.48" cy="109.15" r="1.85" fill="#878787"/>
<circle cx="343.45" cy="110.43" r="1.85" fill="#878787"/>
<circle cx="344.42" cy="111.08" r="1.85" fill="#878787"/>
<circle cx="345.39" cy="111.69" r="1.85" fill="#878787"/>
<circle cx="346.36" cy="112.3" r="1.85" fill="#878787"/>
<circle cx="347.33" cy="112.92" r="1.85" fill="#878787"/>
<circle cx="348.3" cy="113.53" r="1.85" fill="#878787"/>
<circle cx="349.27" cy="114.14" r="1.85" fill="#878787"/>
<circle cx="350.24" cy="114.79" r="1.85" fill="#878787"/>
<circle cx="351.21" cy="115.54" r="1.85" fill="#878787"/>
<circle cx="352.18" cy="116.3" r="1.85" fill="#878787"/>
<circle cx="353.15" cy="117.05" r="1.85" fill="#878787"/>
<circle cx="354.12" cy="117.8" r="1.85" fill="#878787"/>
<circle cx="355.09" cy="118.56" r="1.85" fill="#878787"/>
<circle cx="356.06" cy="119.06" r="1.85" fill="#878787"/>
<circle cx="357.03" cy="119.44" r="1.85" fill="#878787"/>
<circle cx="358" cy="119.82" r="1.85" fill="#878787"/>
<circle cx="358.97" cy="120.2" r="1.85" fill="#878787"/>
<circle cx="359.94" cy="120.58" r="1.85" fill="#878787"/>
<circle cx="360.91" cy="120.96" r="1.85" fill="#878787"/>
<circle cx="361.88" cy="121.34" r="1.85" fill="#878787"/>
<circle cx="362.85" cy="122.26" r="1.85" fill="#878787"/>
<circle cx="363.82" cy="123.6" r="1.85" fill="#878787"/>
<circle cx="364.79" cy="124.95" r="1.85" fill="#878787"/>
<circle cx="365.76" cy="126.29" r="1.85" fill="#878787"/>
<circle cx="366.73" cy="127.1" r="1.85" fill="#878787"/>
<circle cx="367.7" cy="127.47" r="1.85" fill="#878787"/>
<circle cx="368.67" cy="127.83" r="1.85" fill="#878787"/>
<circle cx="369.64" cy="128.2" r="1.85" fill="#878787"/>
<circle cx="370.61" cy="128.56" r="1.85" fill="#878787"/>
<circle cx="371.58" cy="128.93" r="1.85" fill="#878787"/>
<circle cx="372.55" cy="129.32" r="1.85" fill="#878787"/>
<circle cx="373.52" cy="129.79" r="1.85" fill="#878787"/>
<circle cx="374.49" cy="130.27" r="1.85" fill="#878787"/>
<circle cx="375.46" cy="130.74" r="1.85" fill="#878787"/>
<circle cx="376.43" cy="131.12" r="1.85" fill="#878787"/>
<circle cx="377.4" cy="131.41" r="1.85" fill="#878787"/>
<circle cx="378.37" cy="131.69" r="1.85" fill="#878787"/>
<circle cx="379.34" cy="131.97" r="1.85" fill="#878787"/>
<circle cx="380.31" cy="132.25" r="1.85" fill="#878787"/>
<circle cx="381.28" cy="132.53" r="1.85" fill="#878787"/>
<circle cx="382.25" cy="132.82" r="1.85" fill="#878787"/>
<circle cx="383.22" cy="133.1" r="1.85" fill="#878787"/>
<circle cx="384.19" cy="133.38" r="1.85" fill="#878787"/>
<circle cx="385.16" cy="133.7" r="1.85" fill="#878787"/>
<circle cx="386.13" cy="134.06" r="1.85" fill="#878787"/>
<circle cx="387.1" cy="134.41" r="1.85" fill="#878787"/>
<circle cx="388.07" cy="134.76" r="1.85" fill="#878787"/>
<circle cx="389.04" cy="135.11" r="1.85" fill="#878787"/>
<circle cx="390.01" cy="135.47" r="1.85" fill="#878787"/>
<circle cx="390.98" cy="135.82" r="1.85" fill="#878787"/>
<circle cx="391.95" cy="136.17" r="1.85" fill="#878787"/>
<circle cx="392.92" cy="136.8" r="1.85" fill="#878787"/>
<circle cx="393.89" cy="137.59" r="1.85" fill="#878787"/>
<circle cx="394.86" cy="138.38" r="1.85" fill="#878787"/>
<circle cx="395.83" cy="139.17" r="1.85" fill="#878787"/>
<circle cx="396.8" cy="139.96" r="1.85" fill="#878787"/>
<circle cx="397.77" cy="140.68" r="1.85" fill="#878787"/>
<circle cx="398.74" cy="141.37" r="1.85" fill="#878787"/>
<circle cx="399.71" cy="142.07" r="1.85" fill="#878787"/>
<circle cx="400.68" cy="142.76" r="1.85" fill="#878787"/>
<circle cx="401.65" cy="143.46" r="1.85" fill="#878787"/>
<circle cx="402.62" cy="144.15" r="1.85" fill="#878787"/>
<circle cx="403.59" cy="144.85" r="1.85" fill="#878787"/>
<circle cx="404.56" cy="145.23" r="1.85" fill="#878787"/>
<circle cx="405.53" cy="145.52" r="1.85" fill="#878787"/>
<circle cx="406.5" cy="145.81" r="1.85" fill="#878787"/>
<circle cx="407.47" cy="146.1" r="1.85" fill="#878787"/>
<circle cx="408.44" cy="146.39" r="1.85" fill="#878787"/>
<circle cx="409.41" cy="146.68" r="1.85" fill="#878787"/>
<circle cx="410.38" cy="146.97" r="1.85" fill="#878787"/>
<circle cx="411.35" cy="147.26" r="1.85" fill="#878787"/>
<circle cx="412.32" cy="147.55" r="1.85" fill="#878787"/>
<circle cx="413.29" cy="147.84" r="1.85" fill="#878787"/>
<circle cx="414.26" cy="148.46" r="1.85" fill="#878787"/>
<circle cx="415.23" cy="149.18" r="1.85" fill="#878787"/>
<circle cx="416.2" cy="149.89" r="1.85" fill="#878787"/>
<circle cx="417.17" cy="150.61" r="1.85" fill="#878787"/>
<circle cx="418.14" cy="151.33" r="1.85" fill="#878787"/>
<circle cx="419.11" cy="152.04" r="1.85" fill="#878787"/>
<circle cx="420.08" cy="152.73" r="1.85" fill="#878787"/>
<circle cx="421.05" cy="153.12" r="1.85" fill="#878787"/>
<circle cx="422.02" cy="153.5" r="1.85" fill="#878787"/>
<circle cx="422.99" cy="153.88" r="1.85" fill="#878787"/>
<circle cx="423.96" cy="154.27" r="1.85" fill="#878787"/>
<circle cx="424.93" cy="154.65" r="1.85" fill="#878787"/>
<circle cx="425.9" cy="155.04" r="1.85" fill="#878787"/>
<circle cx="426.87" cy="155.42" r="1.85" fill="#878787"/>
<circle cx="427.84" cy="155.8" r="1.85" fill="#878787"/>
<circle cx="428.81" cy="156.19" r="1.85" fill="#878787"/>
<circle cx="429.78" cy="156.57" r="1.85" fill="#878787"/>
<circle cx="430.75" cy="156.97" r="1.85" fill="#878787"/>
<circle cx="431.72" cy="157.36" r="1.85" fill="#878787"/>
<circle cx="432.69" cy="157.76" r="1.85" fill="#878787"/>
<circle cx="433.66" cy="158.15" r="1.85" fill="#878787"/>
<circle cx="434.63" cy="158.54" r="1.85" fill="#878787"/>
<circle cx="435.6" cy="158.94" r="1.85" fill="#878787"/>
<circle cx="436.57" cy="159.33" r="1.85" fill="#878787"/>
<circle cx="437.54" cy="159.73" r="1.85" fill="#878787"/>
<circle cx="438.51" cy="160.12" r="1.85" fill="#878787"/>
<circle cx="439.48" cy="160.48" r="1.85" fill="#878787"/>
<circle cx="440.45" cy="160.78" r="1.85" fill="#878787"/>
<circle cx="441.42" cy="161.07" r="1.85" fill="#878787"/>
<circle cx="442.39" cy="161.36" r="1.85" fill="#878787"/>
<circle cx="443.36" cy="161.66" r="1.85" fill="#878787"/>
<circle cx="444.33" cy="161.95" r="1.85" fill="#878787"/>
<circle cx="445.3" cy="162.24" r="1.85" fill="#878787"/>
<circle cx="446.27" cy="162.54" r="1.85" fill="#878787"/>
<circle cx="447.24" cy="162.83" r="1.85" fill="#878787"/>
<circle cx="448.21" cy="163.12" r="1.85" fill="#878787"/>
<circle cx="449.18" cy="163.39" r="1.85" fill="#878787"/>
<circle cx="450.15" cy="163.63" r="1.85" fill="#878787"/>
<circle cx="451.12" cy="163.87" r="1.85" fill="#878787"/>
<circle cx="452.09" cy="164.11" r="1.85" fill="#878787"/>
<circle cx="453.06" cy="164.35" r="1.85" fill="#878787"/>
<circle cx="454.03" cy="164.59" r="1.85" fill="#878787"/>
<circle cx="455" cy="164.83" r="1.85" fill="#878787"/>
<circle cx="455.97" cy="165.07" r="1.85" fill="#878787"/>
<circle cx="456.94" cy="165.55" r="1.85" fill="#878787"/>
<circle cx="457.91" cy="166.32" r="1.85" fill="#878787"/>
<circle cx="458.88" cy="167.08" r="1.85" fill="#878787"/>
<circle cx="459.85" cy="167.85" r="1.85" fill="#878787"/>
<circle cx="460.82" cy="168.62" r="1.85" fill="#878787"/>
<circle cx="461.79" cy="169.62" r="1.85" fill="#878787"/>
<circle cx="462.76" cy="170.85" r="1.85" fill="#878787"/>
<circle cx="463.73" cy="172.09" r="1.85" fill="#878787"/>
<circle cx="464.7" cy="173.32" r="1.85" fill="#878787"/>
<circle cx="465.67" cy="174.05" r="1.85" fill="#878787"/>
<circle cx="466.64" cy="174.56" r="1.85" fill="#878787"/>
<circle cx="467.61" cy="175.06" r="1.85" fill="#878787"/>
<circle cx="468.58" cy="175.57" r="1.85" fill="#878787"/>
<circle cx="469.55" cy="176.07" r="1.85" fill="#878787"/>
<circle cx="470.52" cy="176.73" r="1.85" fill="#878787"/>
<circle cx="471.49" cy="177.4" r="1.85" fill="#878787"/>
<circle cx="472.46" cy="178.07" r="1.85" fill="#878787"/>
<circle cx="473.43" cy="178.73" r="1.85" fill="#878787"/>
<circle cx="474.4" cy="179.4" r="1.85" fill="#878787"/>
<circle cx="475.37" cy="180.28" r="1.85" fill="#878787"/>
<circle cx="476.34" cy="181.16" r="1.85" fill="#878787"/>
<circle cx="477.31" cy="182.04" r="1.85" fill="#878787"/>
<circle cx="478.28" cy="182.92" r="1.85" fill="#878787"/>
<circle cx="479.25" cy="183.78" r="1.85" fill="#878787"/>
<circle cx="480.22" cy="184.43" r="1.85" fill="#878787"/>
<circle cx="481.19" cy="185.07" r="1.85" fill="#878787"/>
<circle cx="482.16" cy="185.71" r="1.85" fill="#878787"/>
<circle cx="483.13" cy="186.36" r="1.85" fill="#878787"/>
<circle cx="484.1" cy="187" r="1.85" fill="#878787"/>
<circle cx="485.07" cy="187.63" r="1.85" fill="#878787"/>
<circle cx="486.04" cy="188.05" r="1.85" fill="#878787"/>
<circle cx="487.01" cy="188.47" r="1.85" fill="#878787"/>
<circle cx="487.98" cy="188.89" r="1.85" fill="#878787"/>
<circle cx="488.95" cy="189.31" r="1.85" fill="#878787"/>
<circle cx="489.92" cy="189.73" r="1.85" fill="#878787"/>
<circle cx="490.89" cy="190.15" r="1.85" fill="#878787"/>
<circle cx="491.86" cy="190.64" r="1.85" fill="#878787"/>
<circle cx="492.83" cy="191.46" r="1.85" fill="#878787"/>
<circle cx="493.8" cy="192.28" r="1.85" fill="#878787"/>
<circle cx="494.77" cy="193.1" r="1.85" fill="#878787"/>
<circle cx="495.74" cy="194.19" r="1.85" fill="#878787"/>
<circle cx="496.71" cy="196.89" r="1.85" fill="#878787"/>
<circle cx="497.68" cy="199.85" r="1.85" fill="#878787"/>
<circle cx="498.65" cy="201.5" r="1.85" fill="#878787"/>
<circle cx="310.8" cy="37.6" r="1.9" fill="#d8404c"/>
<circle cx="311.5" cy="40.8" r="1.9" fill="#d8404c"/>
<circle cx="500.4" cy="207.6" r="1.9" fill="#3b72b6"/>
<circle cx="501.3" cy="209.4" r="1.9" fill="#3b72b6"/>
<circle cx="502.2" cy="210.9" r="1.9" fill="#3b72b6"/>
<circle cx="503.2" cy="223.9" r="1.9" fill="#3b72b6"/>
<circle cx="504.1" cy="228.2" r="1.9" fill="#3b72b6"/>
<text x="403.5" y="37.9" font-size="7.6" text-anchor="start" fill="#1e1e1e" stroke="#1e1e1e" stroke-width="0.08" >Axitinib</text>
<text x="403.5" y="49" font-size="7.6" text-anchor="start" fill="#1e1e1e" stroke="#1e1e1e" stroke-width="0.08" >Taselisib</text>
<text x="409.6" y="191.4" font-size="7.6" text-anchor="end" fill="#1e1e1e" stroke="#1e1e1e" stroke-width="0.08" >Vinorelbine</text>
<text x="409.6" y="202.2" font-size="7.6" text-anchor="end" fill="#1e1e1e" stroke="#1e1e1e" stroke-width="0.08" >Sepantronium bromide</text>
<text x="409.6" y="213.1" font-size="7.6" text-anchor="end" fill="#1e1e1e" stroke="#1e1e1e" stroke-width="0.08" >WZ3105</text>
<text x="409.6" y="224" font-size="7.6" text-anchor="end" fill="#1e1e1e" stroke="#1e1e1e" stroke-width="0.08" >FY026</text>
<text x="409.6" y="235.2" font-size="7.6" text-anchor="end" fill="#1e1e1e" stroke="#1e1e1e" stroke-width="0.08" >Paclitaxel</text>
<path d="M51.3,428.42 L54.48,427.61 L57.65,426.79 L60.83,425.95 L64.01,425.09 L67.18,424.22 L70.36,423.32 L73.53,422.41 L76.71,421.47 L79.89,420.5 L83.06,419.51 L86.24,418.48 L89.42,417.43 L92.59,416.33 L95.77,415.2 L98.94,414.02 L102.12,412.8 L105.3,411.53 L108.47,410.2 L111.65,408.83 L114.83,407.39 L118,405.9 L121.18,404.35 L124.35,402.73 L127.53,401.06 L130.71,399.32 L133.88,397.52 L137.06,395.67 L140.24,393.76 L143.41,391.79 L146.59,389.77 L149.76,387.7 L152.94,385.59 L156.12,383.43 L159.29,381.24 L162.47,379.01 L165.65,376.74 L168.82,374.45 L172,372.12 L175.17,369.77 L178.35,367.39 L181.53,365 L184.7,362.58 L187.88,360.14 L191.06,357.69 L194.23,355.22 L197.41,352.74 L200.58,350.24 L203.76,347.74 L206.94,345.22 L210.11,342.69 L213.29,340.15 L216.47,337.61 L219.64,335.05 L222.82,332.49 L225.99,329.92 L229.17,327.34 L232.35,324.76 L235.52,322.17 L238.7,319.58 L238.7,403.24 L235.52,403.94 L232.35,404.64 L229.17,405.36 L225.99,406.07 L222.82,406.79 L219.64,407.52 L216.47,408.26 L213.29,409.01 L210.11,409.76 L206.94,410.52 L203.76,411.3 L200.58,412.08 L197.41,412.88 L194.23,413.69 L191.06,414.51 L187.88,415.35 L184.7,416.2 L181.53,417.08 L178.35,417.97 L175.17,418.89 L172,419.83 L168.82,420.8 L165.65,421.79 L162.47,422.82 L159.29,423.88 L156.12,424.97 L152.94,426.11 L149.76,427.29 L146.59,428.51 L143.41,429.79 L140.24,431.11 L137.06,432.49 L133.88,433.93 L130.71,435.42 L127.53,436.98 L124.35,438.59 L121.18,440.27 L118,442.01 L114.83,443.81 L111.65,445.67 L108.47,447.58 L105.3,449.55 L102.12,451.57 L98.94,453.64 L95.77,455.75 L92.59,457.91 L89.42,460.11 L86.24,462.34 L83.06,464.61 L79.89,466.91 L76.71,469.23 L73.53,471.59 L70.36,473.96 L67.18,476.36 L64.01,478.78 L60.83,481.21 L57.65,483.67 L54.48,486.14 L51.3,488.62 Z" fill="#c4c3c7"/>
<line x1="51.3" y1="458.52" x2="238.7" y2="361.41" stroke="#eab6c6" stroke-width="2.6" opacity="0.6"/>
<line x1="51.3" y1="458.52" x2="238.7" y2="361.41" stroke="#9a2640" stroke-width="1.2" stroke-dasharray="3.6,2.6"/>
<circle cx="58.65" cy="397.7" r="2.3" fill="#0a0a0a"/>
<circle cx="67" cy="424.4" r="2.3" fill="#0a0a0a"/>
<circle cx="64" cy="440.7" r="2.3" fill="#0a0a0a"/>
<circle cx="51.5" cy="457.8" r="2.3" fill="#0a0a0a"/>
<circle cx="77.7" cy="449.2" r="2.3" fill="#0a0a0a"/>
<circle cx="96.3" cy="447.2" r="2.3" fill="#0a0a0a"/>
<circle cx="111.2" cy="446.8" r="2.3" fill="#0a0a0a"/>
<circle cx="118.1" cy="453.7" r="2.3" fill="#0a0a0a"/>
<circle cx="122.3" cy="455.8" r="2.3" fill="#0a0a0a"/>
<circle cx="131.3" cy="444.1" r="2.3" fill="#0a0a0a"/>
<circle cx="137.5" cy="435.1" r="2.3" fill="#0a0a0a"/>
<circle cx="148.9" cy="436.3" r="2.3" fill="#0a0a0a"/>
<circle cx="166.5" cy="385.1" r="2.3" fill="#0a0a0a"/>
<circle cx="197.4" cy="306.2" r="2.3" fill="#0a0a0a"/>
<circle cx="203.4" cy="405.8" r="2.3" fill="#0a0a0a"/>
<circle cx="238.9" cy="344.2" r="2.3" fill="#0a0a0a"/>
<rect x="42" y="296.9" width="206.2" height="200.8" fill="none" stroke="#222" stroke-width="1.2"/>
<line x1="39" y1="343" x2="42" y2="343" stroke="#222" stroke-width="1"/>
<text transform="translate(36.2,345.55) scale(0.9,1)" font-size="8.7" text-anchor="end" fill="#1e1e1e" stroke="#1e1e1e" stroke-width="0.08">0.6</text>
<line x1="39" y1="390" x2="42" y2="390" stroke="#222" stroke-width="1"/>
<text transform="translate(36.2,392.55) scale(0.9,1)" font-size="8.7" text-anchor="end" fill="#1e1e1e" stroke="#1e1e1e" stroke-width="0.08">0.4</text>
<line x1="39" y1="437" x2="42" y2="437" stroke="#222" stroke-width="1"/>
<text transform="translate(36.2,439.55) scale(0.9,1)" font-size="8.7" text-anchor="end" fill="#1e1e1e" stroke="#1e1e1e" stroke-width="0.08">0.2</text>
<line x1="39" y1="484.2" x2="42" y2="484.2" stroke="#222" stroke-width="1"/>
<text transform="translate(36.2,486.75) scale(0.9,1)" font-size="8.7" text-anchor="end" fill="#1e1e1e" stroke="#1e1e1e" stroke-width="0.08">0.0</text>
<line x1="77.2" y1="497.7" x2="77.2" y2="500.7" stroke="#222" stroke-width="1"/>
<text transform="translate(77.2,511) scale(0.9,1)" font-size="8.7" text-anchor="middle" fill="#1e1e1e" stroke="#1e1e1e" stroke-width="0.08">0.5</text>
<text transform="translate(72.06,511) scale(0.9,1)" font-size="8.7" text-anchor="end" fill="#1e1e1e" stroke="#1e1e1e" stroke-width="0.08">−</text>
<line x1="130.2" y1="497.7" x2="130.2" y2="500.7" stroke="#222" stroke-width="1"/>
<text transform="translate(130.2,511) scale(0.9,1)" font-size="8.7" text-anchor="middle" fill="#1e1e1e" stroke="#1e1e1e" stroke-width="0.08">0.0</text>
<line x1="183.2" y1="497.7" x2="183.2" y2="500.7" stroke="#222" stroke-width="1"/>
<text transform="translate(183.2,511) scale(0.9,1)" font-size="8.7" text-anchor="middle" fill="#1e1e1e" stroke="#1e1e1e" stroke-width="0.08">0.5</text>
<line x1="236.2" y1="497.7" x2="236.2" y2="500.7" stroke="#222" stroke-width="1"/>
<text transform="translate(236.2,511) scale(0.9,1)" font-size="8.7" text-anchor="middle" fill="#1e1e1e" stroke="#1e1e1e" stroke-width="0.08">1.0</text>
<text transform="translate(144.9,523.8) scale(0.69,1)" font-size="9" text-anchor="middle" fill="#1a1a1a" stroke="#1a1a1a" stroke-width="0.3">KISS</text>
<text transform="translate(18.5,397.8) rotate(-90) scale(0.741,1)" font-size="9" text-anchor="middle" fill="#1a1a1a" stroke="#1a1a1a" stroke-width="0.3">Sensitivity to axitinib (1-AUC)</text>
<path d="M310.4,412.94 L313.58,412.36 L316.77,411.76 L319.95,411.14 L323.13,410.5 L326.32,409.84 L329.5,409.14 L332.68,408.42 L335.86,407.67 L339.05,406.89 L342.23,406.06 L345.41,405.2 L348.6,404.29 L351.78,403.34 L354.96,402.33 L358.15,401.27 L361.33,400.15 L364.51,398.97 L367.69,397.73 L370.88,396.42 L374.06,395.04 L377.24,393.59 L380.43,392.06 L383.61,390.47 L386.79,388.8 L389.98,387.06 L393.16,385.26 L396.34,383.39 L399.53,381.45 L402.71,379.46 L405.89,377.42 L409.07,375.32 L412.26,373.17 L415.44,370.98 L418.62,368.74 L421.81,366.47 L424.99,364.17 L428.17,361.83 L431.36,359.46 L434.54,357.07 L437.72,354.65 L440.91,352.21 L444.09,349.74 L447.27,347.26 L450.45,344.76 L453.64,342.25 L456.82,339.72 L460,337.18 L463.19,334.63 L466.37,332.06 L469.55,329.48 L472.74,326.9 L475.92,324.3 L479.1,321.7 L482.28,319.09 L485.47,316.47 L488.65,313.85 L491.83,311.22 L495.02,308.58 L498.2,305.94 L498.2,406.08 L495.02,406.51 L491.83,406.94 L488.65,407.37 L485.47,407.81 L482.28,408.26 L479.1,408.72 L475.92,409.18 L472.74,409.65 L469.55,410.13 L466.37,410.62 L463.19,411.13 L460,411.64 L456.82,412.16 L453.64,412.7 L450.45,413.25 L447.27,413.82 L444.09,414.41 L440.91,415.01 L437.72,415.64 L434.54,416.29 L431.36,416.96 L428.17,417.66 L424.99,418.39 L421.81,419.15 L418.62,419.94 L415.44,420.78 L412.26,421.65 L409.07,422.57 L405.89,423.54 L402.71,424.56 L399.53,425.63 L396.34,426.76 L393.16,427.96 L389.98,429.22 L386.79,430.55 L383.61,431.95 L380.43,433.42 L377.24,434.97 L374.06,436.58 L370.88,438.27 L367.69,440.02 L364.51,441.84 L361.33,443.73 L358.15,445.68 L354.96,447.69 L351.78,449.75 L348.6,451.86 L345.41,454.02 L342.23,456.22 L339.05,458.47 L335.86,460.75 L332.68,463.06 L329.5,465.41 L326.32,467.78 L323.13,470.18 L319.95,472.61 L316.77,475.06 L313.58,477.52 L310.4,480.01 Z" fill="#c4c3c7"/>
<line x1="310.4" y1="446.48" x2="498.2" y2="356.01" stroke="#eab6c6" stroke-width="2.6" opacity="0.6"/>
<line x1="310.4" y1="446.48" x2="498.2" y2="356.01" stroke="#9a2640" stroke-width="1.2" stroke-dasharray="3.6,2.6"/>
<circle cx="310.2" cy="361.7" r="2.3" fill="#0a0a0a"/>
<circle cx="355.8" cy="410.5" r="2.3" fill="#0a0a0a"/>
<circle cx="370.6" cy="410.9" r="2.3" fill="#0a0a0a"/>
<circle cx="390.4" cy="404.7" r="2.3" fill="#0a0a0a"/>
<circle cx="381.5" cy="421.8" r="2.3" fill="#0a0a0a"/>
<circle cx="396.8" cy="417.2" r="2.3" fill="#0a0a0a"/>
<circle cx="317.9" cy="449.4" r="2.3" fill="#0a0a0a"/>
<circle cx="323.1" cy="452.7" r="2.3" fill="#0a0a0a"/>
<circle cx="377.3" cy="442.9" r="2.3" fill="#0a0a0a"/>
<circle cx="326.3" cy="488.5" r="2.3" fill="#0a0a0a"/>
<circle cx="498" cy="330" r="2.3" fill="#0a0a0a"/>
<circle cx="456.6" cy="366.2" r="2.3" fill="#0a0a0a"/>
<circle cx="425.8" cy="416.5" r="2.3" fill="#0a0a0a"/>
<rect x="301.3" y="296.9" width="205.9" height="200.8" fill="none" stroke="#222" stroke-width="1.2"/>
<line x1="298.3" y1="342.6" x2="301.3" y2="342.6" stroke="#222" stroke-width="1"/>
<text transform="translate(295.5,345.15) scale(0.9,1)" font-size="8.7" text-anchor="end" fill="#1e1e1e" stroke="#1e1e1e" stroke-width="0.08">0.6</text>
<line x1="298.3" y1="396.6" x2="301.3" y2="396.6" stroke="#222" stroke-width="1"/>
<text transform="translate(295.5,399.15) scale(0.9,1)" font-size="8.7" text-anchor="end" fill="#1e1e1e" stroke="#1e1e1e" stroke-width="0.08">0.4</text>
<line x1="298.3" y1="450" x2="301.3" y2="450" stroke="#222" stroke-width="1"/>
<text transform="translate(295.5,452.55) scale(0.9,1)" font-size="8.7" text-anchor="end" fill="#1e1e1e" stroke="#1e1e1e" stroke-width="0.08">0.2</text>
<line x1="336.1" y1="497.7" x2="336.1" y2="500.7" stroke="#222" stroke-width="1"/>
<text transform="translate(336.1,511) scale(0.9,1)" font-size="8.7" text-anchor="middle" fill="#1e1e1e" stroke="#1e1e1e" stroke-width="0.08">0.5</text>
<text transform="translate(330.96,511) scale(0.9,1)" font-size="8.7" text-anchor="end" fill="#1e1e1e" stroke="#1e1e1e" stroke-width="0.08">−</text>
<line x1="389" y1="497.7" x2="389" y2="500.7" stroke="#222" stroke-width="1"/>
<text transform="translate(389,511) scale(0.9,1)" font-size="8.7" text-anchor="middle" fill="#1e1e1e" stroke="#1e1e1e" stroke-width="0.08">0.0</text>
<line x1="442.5" y1="497.7" x2="442.5" y2="500.7" stroke="#222" stroke-width="1"/>
<text transform="translate(442.5,511) scale(0.9,1)" font-size="8.7" text-anchor="middle" fill="#1e1e1e" stroke="#1e1e1e" stroke-width="0.08">0.5</text>
<line x1="495.5" y1="497.7" x2="495.5" y2="500.7" stroke="#222" stroke-width="1"/>
<text transform="translate(495.5,511) scale(0.9,1)" font-size="8.7" text-anchor="middle" fill="#1e1e1e" stroke="#1e1e1e" stroke-width="0.08">1.0</text>
<text transform="translate(403.8,523.8) scale(0.69,1)" font-size="9" text-anchor="middle" fill="#1a1a1a" stroke="#1a1a1a" stroke-width="0.3">KISS</text>
<text transform="translate(278.3,397.2) rotate(-90) scale(0.731,1)" font-size="9" text-anchor="middle" fill="#1a1a1a" stroke="#1a1a1a" stroke-width="0.3">Sensitivity to taselisib (1-AUC)</text>
</svg></body></html>
